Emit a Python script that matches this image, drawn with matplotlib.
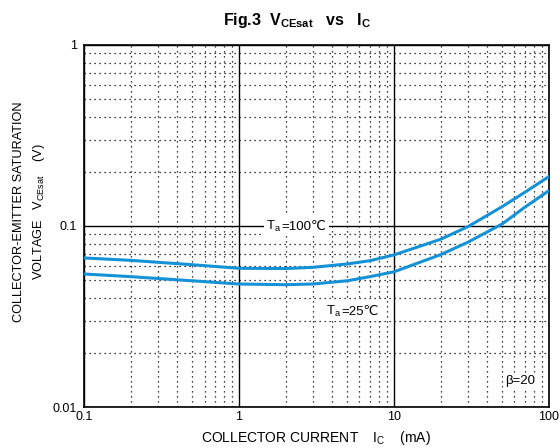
import matplotlib
matplotlib.use("Agg")
import matplotlib.pyplot as plt
from matplotlib.ticker import LogLocator, NullFormatter, FixedLocator, FixedFormatter
from matplotlib.offsetbox import TextArea, HPacker, AnnotationBbox

plt.rcParams['font.family'] = ['Liberation Sans', 'DejaVu Sans']
plt.rcParams['mathtext.fontset'] = 'custom'
plt.rcParams['mathtext.rm'] = 'Liberation Sans'
plt.rcParams['mathtext.it'] = 'Liberation Sans'
plt.rcParams['mathtext.bf'] = 'Liberation Sans:bold'

ic_100 = [0.1, 0.2, 0.5, 1, 2, 3, 5, 7, 10, 20, 30, 50, 70, 100]
vce_100 = [0.0666, 0.0646, 0.0611, 0.0584, 0.0582, 0.0591, 0.0617, 0.0643, 0.0692,
           0.0844, 0.0991, 0.1279, 0.1535, 0.1873]
ic_25 = [0.1, 0.2, 0.5, 1, 2, 3, 5, 7, 10, 20, 30, 50, 70, 100]
vce_25 = [0.0543, 0.0525, 0.0498, 0.0478, 0.0474, 0.0478, 0.0498, 0.0525, 0.0558,
          0.0694, 0.0813, 0.1026, 0.1269, 0.1567]

xticks = [0.1, 1, 10, 100]
xticklabels = ['0.1', '1', '10', '100']
yticks = [0.01, 0.1, 1]
yticklabels = ['0.01', '0.1', '1']

line_color = '#1592d6'

fig = plt.figure(figsize=(5.6, 4.48), dpi=100)
ax = fig.add_axes([0.15, 0.0915, 0.83, 0.8081])
ax.set_xscale('log')
ax.set_yscale('log')
ax.set_xlim(0.1, 100)
ax.set_ylim(0.01, 1)

ax.plot(ic_100, vce_100, color=line_color, lw=2.2, solid_capstyle='round', zorder=3)
ax.plot(ic_25, vce_25, color=line_color, lw=2.2, solid_capstyle='round', zorder=3)

ax.xaxis.set_major_locator(FixedLocator(xticks))
ax.xaxis.set_major_formatter(FixedFormatter(xticklabels))
ax.yaxis.set_major_locator(FixedLocator(yticks))
ax.yaxis.set_major_formatter(FixedFormatter(yticklabels))
ax.xaxis.set_minor_locator(LogLocator(base=10, subs=range(2, 10)))
ax.yaxis.set_minor_locator(LogLocator(base=10, subs=range(2, 10)))
ax.xaxis.set_minor_formatter(NullFormatter())
ax.yaxis.set_minor_formatter(NullFormatter())
ax.tick_params(which='both', length=0, labelsize=9)
ax.tick_params(axis='x', pad=3)
ax.tick_params(axis='y', pad=5)

ax.grid(which='major', color='black', lw=1, ls='-', zorder=1)
ax.grid(which='minor', color='black', lw=0.9, ls=(0, (1, 3)), zorder=1)
for s in ax.spines.values():
    s.set_linewidth(1.2)


def temp_label(xy, temp):
    fam = ['Liberation Sans', 'DejaVu Sans']
    t1 = TextArea(r'T$_{\mathregular{a}}$', textprops=dict(fontsize=9.5))
    t2 = TextArea('=' + temp + '℃', textprops=dict(fontsize=9.5, family=fam))
    box = HPacker(children=[t1, t2], align='baseline', pad=0, sep=0)
    ab = AnnotationBbox(box, xy, xycoords='data', frameon=True, pad=0.15,
                        bboxprops=dict(facecolor='white', edgecolor='none'), zorder=4)
    ax.add_artist(ab)


temp_label((2.35, 0.1), '100')
temp_label((5.4, 0.0339), '25')
ax.text(65, 0.0139, 'β=20', fontsize=9.5, ha='center', va='center',
        bbox=dict(facecolor='white', edgecolor='none', pad=1.5), zorder=4)

fig.text(0.53, 0.955, r'Fig.3  V$_{\mathregular{CEsat}}$   vs   I$_{\mathregular{C}}$',
         fontsize=11.5, fontweight='bold', ha='center', va='center')
ax.set_xlabel(r'COLLECTOR CURRENT    I$_{\mathregular{C}}$    (mA)', fontsize=10, labelpad=4)
ax.set_ylabel('COLLECTOR-EMITTER SATURATION\n' + r'VOLTAGE   V$_{\mathregular{CEsat}}$    (V)',
              fontsize=9.2, linespacing=1.5)
ax.yaxis.set_label_coords(-0.08, 0.539)

fig.savefig('out.png', dpi=100)
